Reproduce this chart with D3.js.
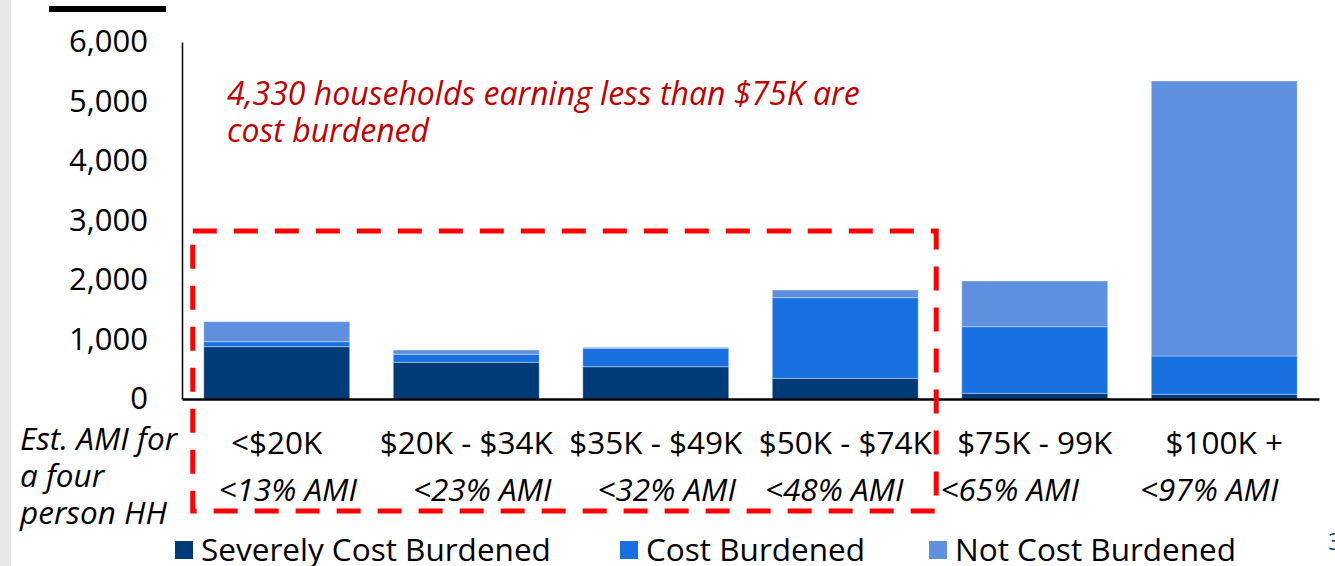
<!DOCTYPE html>
<html>
<head>
<meta charset="utf-8">
<script src="https://cdn.jsdelivr.net/npm/d3@7"></script>
<style>
  body { margin: 0; background: #fff; }
  svg { display: block; font-family: "Open Sans", sans-serif; }
</style>
</head>
<body>
<svg width="1335" height="566"></svg>
<script>
// chart values
const incomeBands = ['<$20K', '$20K - $34K', '$35K - $49K', '$50K - $74K', '$75K - 99K', '$100K +'];
const amiLabels = ['<13% AMI', '<23% AMI', '<32% AMI', '<48% AMI', '<65% AMI', '<97% AMI'];
const severelyBurdened = [880, 617, 543, 348, 96, 79];
const costBurdened = [83, 134, 309, 1355, 1119, 644];
const notBurdened = [337, 73, 17, 129, 768, 4622];
const seriesNames = ['Severely Cost Burdened', 'Cost Burdened', 'Not Cost Burdened'];
const yTicks = [0, 1000, 2000, 3000, 4000, 5000, 6000];
const note = ['4,330 households earning less than $75K are', 'cost burdened'];
const sideNote = ['Est. AMI for', 'a four', 'person HH'];

const colors = ['#003b79', '#176fe0', '#5f90e0'];
// the AMI text boxes in the source sit a little off the bar centres
const amiShift = [11, 16, 11, -11, -25, -15];

const svg = d3.select('svg');
const margin = {left: 182, right: 1319, top: 42, bottom: 399};

// slide chrome: gray strip on the left, black rule at the top, page number
svg.append('rect').attr('x', 0).attr('y', 0).attr('width', 11).attr('height', 566).attr('fill', '#e7e7e7');
svg.append('rect').attr('x', 49).attr('y', 6).attr('width', 117).attr('height', 6).attr('fill', '#000');
svg.append('text').attr('x', 1328).attr('y', 550).attr('font-size', 24).attr('fill', '#1f4e79').text('3');

const x = d3.scaleBand()
  .domain(incomeBands)
  .range([margin.left, margin.right])
  .paddingInner(0.23)
  .paddingOuter(0.115);

const y = d3.scaleLinear()
  .domain([0, 6000])
  .range([margin.bottom, margin.top]);

const rows = incomeBands.map((band, i) => ({
  band,
  severe: severelyBurdened[i],
  cost: costBurdened[i],
  not: notBurdened[i],
}));
const stack = d3.stack().keys(['severe', 'cost', 'not'])(rows);

svg.append('g')
  .selectAll('g')
  .data(stack)
  .join('g')
  .attr('fill', (d, i) => colors[i])
  .selectAll('rect')
  .data(d => d)
  .join('rect')
  .attr('x', d => x(d.data.band))
  .attr('width', x.bandwidth())
  .attr('y', d => y(d[1]))
  .attr('height', d => y(d[0]) - y(d[1]))
  .attr('stroke', '#fff')
  .attr('stroke-opacity', 0.35)
  .attr('stroke-width', 1);

// y axis: line plus tick labels, no tick marks
const yAxis = svg.append('g')
  .attr('transform', `translate(${margin.left},0)`)
  .call(d3.axisLeft(y).tickValues(yTicks).tickSize(0).tickPadding(34).tickFormat(d3.format(',')));
yAxis.select('.domain').attr('stroke', '#000').attr('stroke-width', 1.5);
yAxis.selectAll('text')
  .attr('font-family', '"Open Sans", sans-serif')
  .attr('font-size', 31)
  .attr('fill', '#000');

// x axis baseline
const xAxis = svg.append('g')
  .attr('transform', `translate(0,${margin.bottom})`)
  .call(d3.axisBottom(x).tickSize(0).tickPadding(33));
xAxis.select('.domain').attr('stroke', '#000').attr('stroke-width', 2.5);
xAxis.selectAll('text')
  .attr('font-family', '"Open Sans", sans-serif')
  .attr('font-size', 31.5)
  .attr('fill', '#000');

svg.append('g')
  .selectAll('text')
  .data(amiLabels)
  .join('text')
  .attr('x', (d, i) => x(incomeBands[i]) + x.bandwidth() / 2 + amiShift[i])
  .attr('y', 501)
  .attr('text-anchor', 'middle')
  .attr('font-size', 31.5)
  .attr('font-style', 'italic')
  .text(d => d);

svg.append('g')
  .selectAll('text')
  .data(sideNote)
  .join('text')
  .attr('x', 20)
  .attr('y', (d, i) => 450 + i * 37)
  .attr('font-size', 31.5)
  .attr('font-style', 'italic')
  .text(d => d);

// red callout
svg.append('g')
  .selectAll('text')
  .data(note)
  .join('text')
  .attr('x', 227)
  .attr('y', (d, i) => 105 + i * 37)
  .attr('font-size', 32)
  .attr('font-style', 'italic')
  .attr('fill', '#c00000')
  .text(d => d);

const boxLeft = x(incomeBands[0]) - 11;
const boxRight = x(incomeBands[3]) + x.bandwidth() + 18;
svg.append('rect')
  .attr('x', boxLeft)
  .attr('y', 231)
  .attr('width', boxRight - boxLeft)
  .attr('height', 280)
  .attr('fill', 'none')
  .attr('stroke', '#ff0000')
  .attr('stroke-width', 5)
  .attr('stroke-dasharray', '24 17');

// legend
const legendX = [175, 620, 929];
const legend = svg.append('g')
  .selectAll('g')
  .data(seriesNames)
  .join('g')
  .attr('transform', (d, i) => `translate(${legendX[i]},541)`);
legend.append('rect')
  .attr('width', 18)
  .attr('height', 18)
  .attr('fill', (d, i) => colors[i]);
legend.append('text')
  .attr('x', 26)
  .attr('y', 20)
  .attr('font-size', 31.5)
  .text(d => d);
</script>
</body>
</html>
